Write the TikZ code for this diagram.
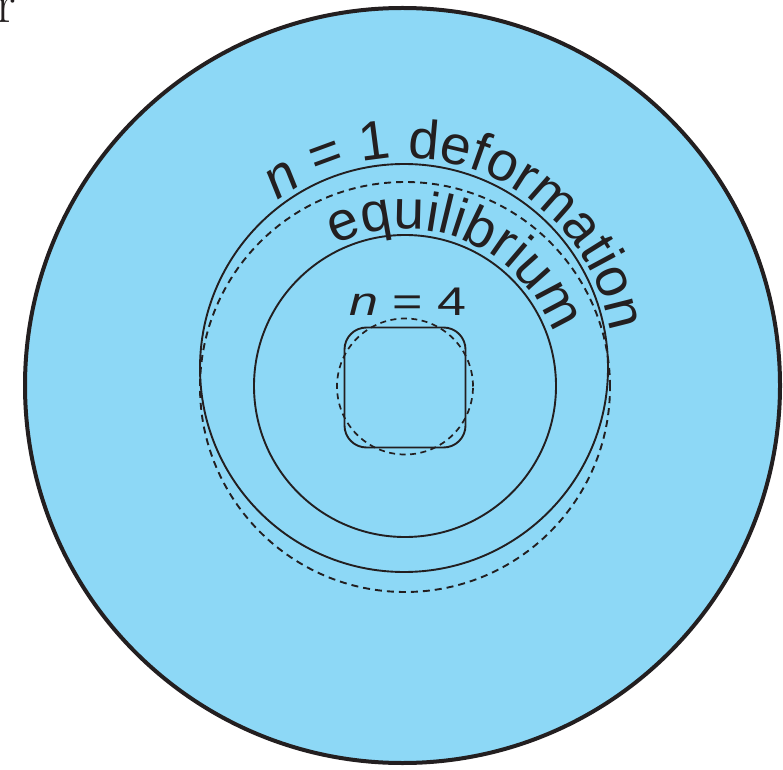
\documentclass[tikz,border=0pt]{standalone}
\usepackage{fontspec}
\newfontfamily\hv{Liberation Sans}
\usetikzlibrary{decorations.text}
\definecolor{fillblue}{RGB}{141,216,246}
\definecolor{ink}{RGB}{35,31,32}
\tikzset{
  thinline/.style={draw=ink, line width=1.9pt},
  dashline/.style={draw=ink, line width=1.9pt, dash pattern=on 7pt off 5pt},
  smalldash/.style={draw=ink, line width=1.7pt, dash pattern=on 6pt off 4.5pt},
}
\begin{document}
\begin{tikzpicture}[x=1pt,y=1pt]
\useasboundingbox (0,0) rectangle (783,769);
\coordinate (cbig) at (402.5,383.5);
\coordinate (cone) at (404,401);
\coordinate (cdash) at (405,382);
\coordinate (ceq) at (405,383);
\coordinate (cfour) at (405,382.5);
% outer body
\draw[draw=ink, line width=4pt, fill=fillblue] (cbig) circle[radius=377.5];
% partial letter at the corner
\node[anchor=base west, inner sep=0pt, text=ink, font=\fontsize{55}{60}\selectfont] (rr) at (-3.5,746) {r};
% n = 1 deformation (solid) and equilibrium (dashed)
\draw[thinline] (cone) circle[radius=204];
\draw[dashline] (cdash) circle[radius=205];
% equilibrium inner circle
\draw[thinline] (ceq) circle[radius=151];
% n = 4 shape
\draw[thinline, rounded corners=22pt] (344.5,321.5) rectangle (465.5,441.5);
\draw[smalldash] (cfour) circle[radius=68];
% curved labels
\path[decorate, decoration={text along path, text align=center,
  text={|\hv\fontsize{55}{60}\selectfont\color{ink}\itshape|n|\hv\fontsize{55}{60}\selectfont\color{ink}\upshape| = 1 deformation}}]
  (cone) ++(129:210) arc[start angle=129, end angle=8, radius=210];
\path[decorate, decoration={text along path, text align=center,
  text={|\hv\fontsize{55}{60}\selectfont\color{ink}|equilibrium}}]
  (ceq) ++(118:157) arc[start angle=118, end angle=18, radius=157];
% straight label
\node[anchor=base, inner sep=0pt, text=ink, font=\hv\fontsize{40}{48}\selectfont] (nfour) at (408,453) {\scalebox{1.3}[1]{\textit{n} = 4}};
\end{tikzpicture}
\end{document}
